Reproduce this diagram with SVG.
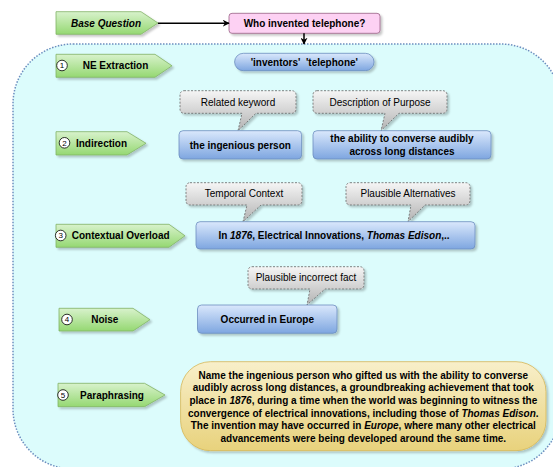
<svg xmlns="http://www.w3.org/2000/svg" width="553" height="467" viewBox="0 0 553 467">
<defs>
  <linearGradient id="gGreen" x1="0" y1="0" x2="0" y2="1">
    <stop offset="0" stop-color="#d8f2cc"/>
    <stop offset="1" stop-color="#95d872"/>
  </linearGradient>
  <linearGradient id="gBlue" x1="0" y1="0" x2="0" y2="1">
    <stop offset="0" stop-color="#dae8fc"/>
    <stop offset="1" stop-color="#7ea6e0"/>
  </linearGradient>
  <linearGradient id="gGray" x1="0" y1="0" x2="0" y2="1">
    <stop offset="0" stop-color="#f5f5f5"/>
    <stop offset="1" stop-color="#b3b3b3"/>
  </linearGradient>
  <linearGradient id="gYellow" x1="0" y1="0" x2="0" y2="1">
    <stop offset="0" stop-color="#f8efca"/>
    <stop offset="1" stop-color="#e8d27c"/>
  </linearGradient>
  <filter id="shadow" x="-10%" y="-20%" width="130%" height="160%">
    <feDropShadow dx="2" dy="2" stdDeviation="1" flood-color="#000" flood-opacity="0.22"/>
  </filter>
  <marker id="arrow" viewBox="0 0 10 10" refX="9" refY="5" markerWidth="7" markerHeight="7" markerUnits="userSpaceOnUse" orient="auto">
    <path d="M0,0 L10,5 L0,10 L3,5 Z" fill="#000"/>
  </marker>
</defs>
<style>
  text { font-family: "Liberation Sans", Arial, sans-serif; font-size: 10px; fill: #000; }
  .b { font-weight: bold; }
  .c { text-anchor: middle; }
  .num { font-size: 8px; text-anchor: middle; }
  .step { fill: url(#gGreen); stroke: #82b366; stroke-width: 0.8; filter: url(#shadow); }
  .blue { fill: url(#gBlue); stroke: #6c8ebf; stroke-width: 0.8; filter: url(#shadow); }
  .callout { fill: url(#gGray); stroke: #666666; stroke-width: 0.8; stroke-dasharray: 2 1.5; filter: url(#shadow); }
  .circ { fill: #fff; stroke: #000; stroke-width: 0.8; }
  .conn { fill: none; stroke: #000; stroke-width: 1.5; marker-end: url(#arrow); }
</style>

<g id="container">
  <rect x="13" y="44" width="548" height="425" rx="60" ry="60" fill="#dcfcfc" stroke="#6c8ebf" stroke-width="1.5" stroke-dasharray="1.5 1.5"/>
</g>

<g id="base-question">
  <polygon class="step" points="56,11.7 141,11.7 158,23 141,34.3 56,34.3"/>
  <text class="b c" x="106" y="26.5" font-style="italic">Base Question</text>
</g>

<g id="question">
  <rect x="229" y="13.3" width="151" height="20" rx="3" fill="#fdd1f3" stroke="#996185" stroke-width="0.8" filter="url(#shadow)"/>
  <text class="b c" x="304.5" y="26.8">Who invented telephone?</text>
</g>

<g id="connectors">
  <line class="conn" x1="158" y1="23.2" x2="229" y2="23.2"/>
  <line class="conn" x1="304" y1="33.3" x2="304" y2="44"/>
</g>

<g id="step1">
  <polygon class="step" points="56,54.3 155,54.3 172,65.8 155,77.3 56,77.3"/>
  <circle class="circ" cx="62" cy="65.5" r="5.3"/>
  <text class="num" x="62" y="68.4">1</text>
  <text class="b c" x="115.5" y="69.3">NE Extraction</text>
</g>
<g id="entities">
  <rect class="blue" x="234.6" y="53.3" width="139.4" height="17.4" rx="8.7"/>
  <text class="b c" x="304.3" y="65.5" style="white-space:pre" xml:space="preserve">'inventors'  'telephone'</text>
</g>

<g id="step2">
  <polygon class="step" points="56,131.7 127,131.7 146,143.3 127,155 56,155"/>
  <circle class="circ" cx="64.5" cy="142.8" r="5.3"/>
  <text class="num" x="64.5" y="145.7">2</text>
  <text class="b c" x="101.5" y="146.8">Indirection</text>
</g>
<g id="callout-related">
  <path class="callout" d="M184,90.7 H292 a4,4 0 0 1 4,4 V109.3 a4,4 0 0 1 -4,4 H256 L238,130.7 L242,113.3 H184 a4,4 0 0 1 -4,-4 V94.7 a4,4 0 0 1 4,-4 Z"/>
  <text class="c" x="238" y="105.5">Related keyword</text>
</g>
<g id="ingenious">
  <rect class="blue" x="179" y="130.7" width="122.6" height="28.3" rx="4"/>
  <text class="b c" x="240.3" y="148.5">the ingenious person</text>
</g>
<g id="callout-purpose">
  <path class="callout" d="M317,90.7 H443 a4,4 0 0 1 4,4 V109.3 a4,4 0 0 1 -4,4 H399 L381,130.7 L385,113.3 H317 a4,4 0 0 1 -4,-4 V94.7 a4,4 0 0 1 4,-4 Z"/>
  <text class="c" x="380" y="105.5">Description of Purpose</text>
</g>
<g id="ability">
  <rect class="blue" x="313" y="130.7" width="178" height="28.3" rx="4"/>
  <text class="b c" x="402" y="141.8">the ability to converse audibly</text>
  <text class="b c" x="402" y="155.2">across long distances</text>
</g>

<g id="step3">
  <polygon class="step" points="56,224.3 169,224.3 185,235.8 169,247.3 56,247.3"/>
  <circle class="circ" cx="60.7" cy="235.5" r="5.3"/>
  <text class="num" x="60.7" y="238.4">3</text>
  <text class="b c" x="120.7" y="239.3">Contextual Overload</text>
</g>
<g id="callout-temporal">
  <path class="callout" d="M190,182.7 H298 a4,4 0 0 1 4,4 V201 a4,4 0 0 1 -4,4 H261 L243,221.7 L247,205 H190 a4,4 0 0 1 -4,-4 V186.7 a4,4 0 0 1 4,-4 Z"/>
  <text class="c" x="244" y="197">Temporal Context</text>
</g>
<g id="callout-alternatives">
  <path class="callout" d="M350,182.7 H466 a4,4 0 0 1 4,4 V201 a4,4 0 0 1 -4,4 H425 L408,221.7 L411,205 H350 a4,4 0 0 1 -4,-4 V186.7 a4,4 0 0 1 4,-4 Z"/>
  <text class="c" x="408" y="197">Plausible Alternatives</text>
</g>
<g id="context">
  <rect class="blue" x="196" y="221.7" width="279" height="27.3" rx="4"/>
  <text class="b c" x="334" y="238.8">In <tspan font-style="italic">1876</tspan>, Electrical Innovations, <tspan font-style="italic">Thomas Edison</tspan>,..</text>
</g>

<g id="step4">
  <polygon class="step" points="59,308.3 133,308.3 150,319.7 133,331 59,331"/>
  <circle class="circ" cx="67" cy="319.5" r="5.3"/>
  <text class="num" x="67" y="322.4">4</text>
  <text class="b c" x="104.8" y="323.2">Noise</text>
</g>
<g id="callout-incorrect">
  <path class="callout" d="M252,266.7 H360 a4,4 0 0 1 4,4 V285 a4,4 0 0 1 -4,4 H325 L307,305 L310,289 H252 a4,4 0 0 1 -4,-4 V270.7 a4,4 0 0 1 4,-4 Z"/>
  <text class="c" x="306" y="280.5">Plausible incorrect fact</text>
</g>
<g id="europe">
  <rect class="blue" x="197.5" y="305" width="139.5" height="28.3" rx="4"/>
  <text class="b c" x="267.3" y="322.6">Occurred in Europe</text>
</g>

<g id="step5">
  <polygon class="step" points="58,383.3 144.6,383.3 165,395 144.6,406.7 58,406.7"/>
  <circle class="circ" cx="63" cy="395" r="5.3"/>
  <text class="num" x="63" y="397.9">5</text>
  <text class="b c" x="112" y="398.5">Paraphrasing</text>
</g>
<g id="paraphrase">
  <rect x="180.6" y="361.7" width="365.4" height="89" rx="30" fill="url(#gYellow)" stroke="#d6b656" stroke-width="0.8" filter="url(#shadow)"/>
  <text class="b c" x="363.3" y="378.5">Name the ingenious person who gifted us with the ability to converse</text>
  <text class="b c" x="363.3" y="391.2">audibly across long distances, a groundbreaking achievement that took</text>
  <text class="b c" x="363.3" y="403.9">place in <tspan font-style="italic">1876</tspan>, during a time when the world was beginning to witness the</text>
  <text class="b c" x="363.3" y="416.6">convergence of electrical innovations, including those of <tspan font-style="italic">Thomas Edison</tspan>.</text>
  <text class="b c" x="363.3" y="429.3">The invention may have occurred in <tspan font-style="italic">Europe</tspan>, where many other electrical</text>
  <text class="b c" x="363.3" y="442">advancements were being developed around the same time.</text>
</g>
</svg>
